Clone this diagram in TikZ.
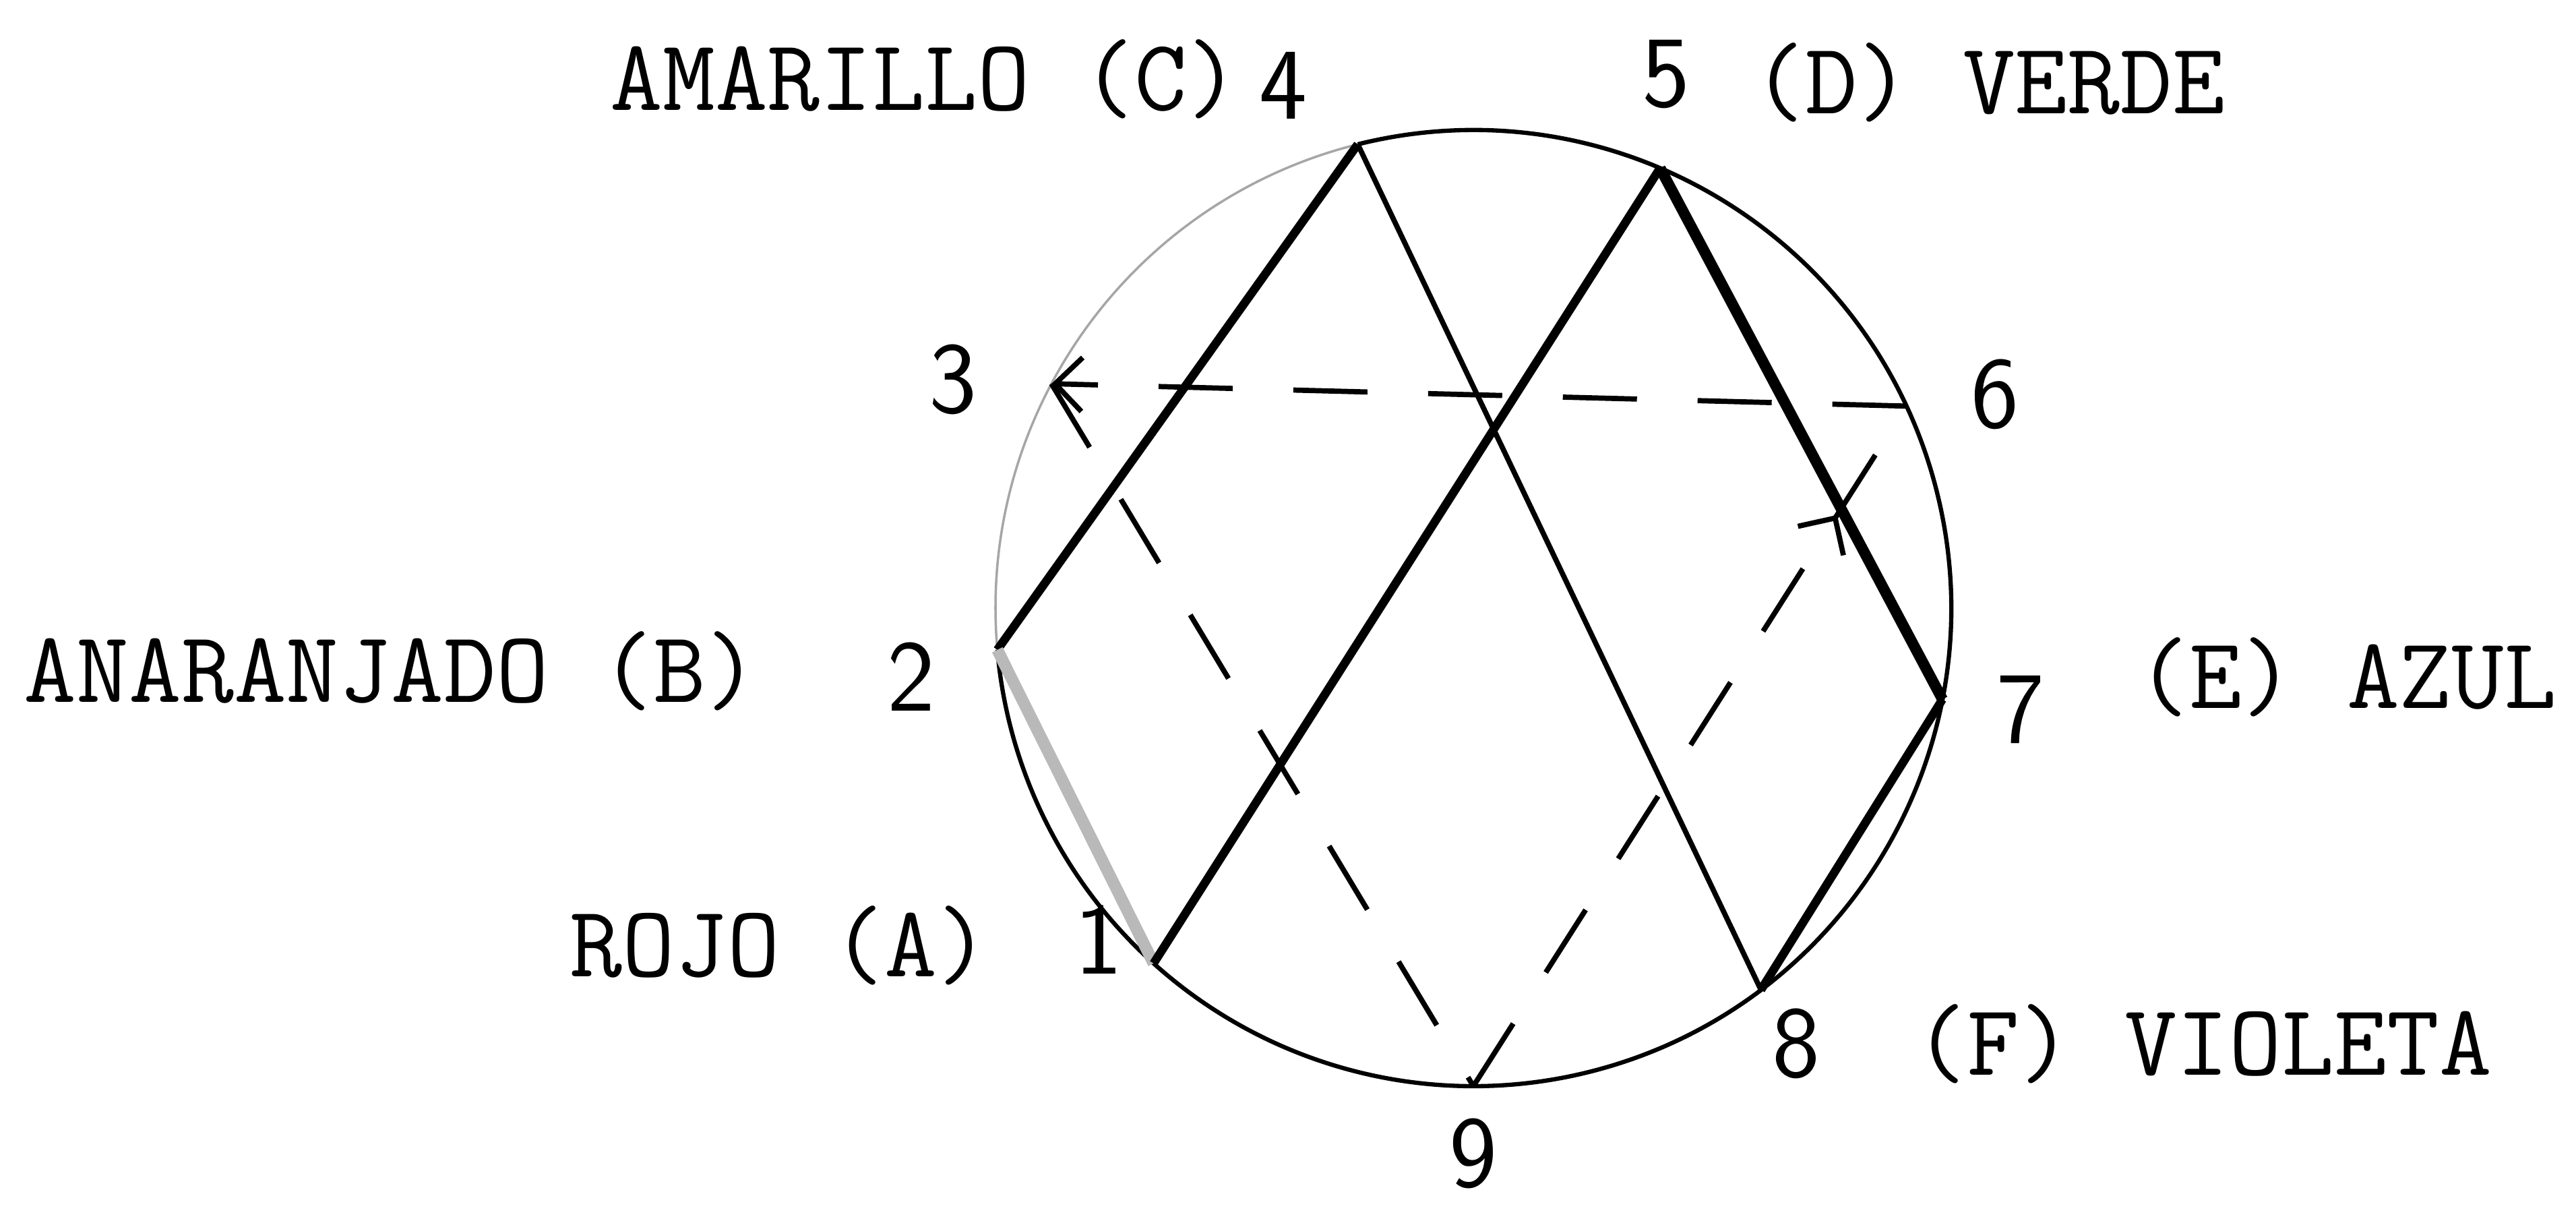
\documentclass[tikz,border=0pt]{standalone}
\usepackage{fontspec}
\usetikzlibrary{arrows.meta,decorations.markings}

\begin{document}
\begin{tikzpicture}[
    ring/.style={line width=1.8pt},
    faintring/.style={line width=1pt, gray!70},
    heavy/.style={line width=3.6pt},
    chordline/.style={line width=2.2pt},
    dashline/.style={line width=2.2pt, dash pattern=on 1.1cm off 0.9cm},
    swatch/.style={font=\ttfamily\fontsize{43}{43}\selectfont, inner sep=0pt},
    digit/.style={font=\sffamily\fontsize{43}{43}\selectfont, inner sep=0pt},
    midarrow/.style={postaction={decorate}, decoration={markings,
        mark=at position #1 with {\arrow{Straight Barb[length=4mm,width=8mm]}}}},
    >={Straight Barb[length=4mm,width=8mm]}
  ]
  \useasboundingbox (0,0) rectangle (38.22,18.08);

  % Circle and the nine points on it
  \coordinate (c) at (21.86,9.06);
  \foreach \n/\a in {1/228,2/185,3/152,4/104,5/67,6/25,7/349,8/307,9/270}
    \path (c) ++(\a:7.09) coordinate (p\n);
  \draw[ring] (p4) arc[start angle=104, end angle=-175, radius=7.09];
  \draw[faintring] (p2) arc[start angle=185, end angle=104, radius=7.09];

  % Solid chords
  \draw[heavy] (p4) -- (p2);
  \draw[heavy, line width=5pt, gray!55] (p2) -- (p1);
  \draw[heavy] (p1) -- (p5);
  \draw[heavy, line width=4.6pt] (p5) -- (p7);
  \draw[heavy] (p7) -- (p8);
  \draw[chordline] (p4) -- (p8);

  % Dashed triangle
  \draw[dashline, ->] (p6) -- (p3);
  \draw[dashline] (p3) -- (p9);
  \draw[dashline, midarrow=0.84] (p9) -- (p6);

  % Numbers
  \foreach \n/\x/\y in {1/16.30/4.14, 2/13.52/8.04, 3/14.14/12.45,
                        4/19.04/16.81, 5/24.72/16.98, 6/29.60/12.23,
                        7/29.98/7.55, 8/26.65/2.60, 9/21.86/0.97}
    \node[digit] (d\n) at (\x,\y) {\n};

  % Colour names
  \node[swatch, anchor=east] (amarillo) at (18.40,16.91) {AMARILLO (C)};
  \node[swatch, anchor=west] (verde)    at (26.00,16.86) {(D) VERDE};
  \node[swatch, anchor=west] (naranja)  at (0.35,8.13)   {ANARANJADO (B)};
  \node[swatch, anchor=west] (azul)     at (31.70,8.04)  {(E) AZUL};
  \node[swatch, anchor=west] (rojo)     at (8.45,4.06)   {ROJO (A)};
  \node[swatch, anchor=west] (violeta)  at (28.40,2.60)  {(F) VIOLETA};
\end{tikzpicture}
\end{document}
